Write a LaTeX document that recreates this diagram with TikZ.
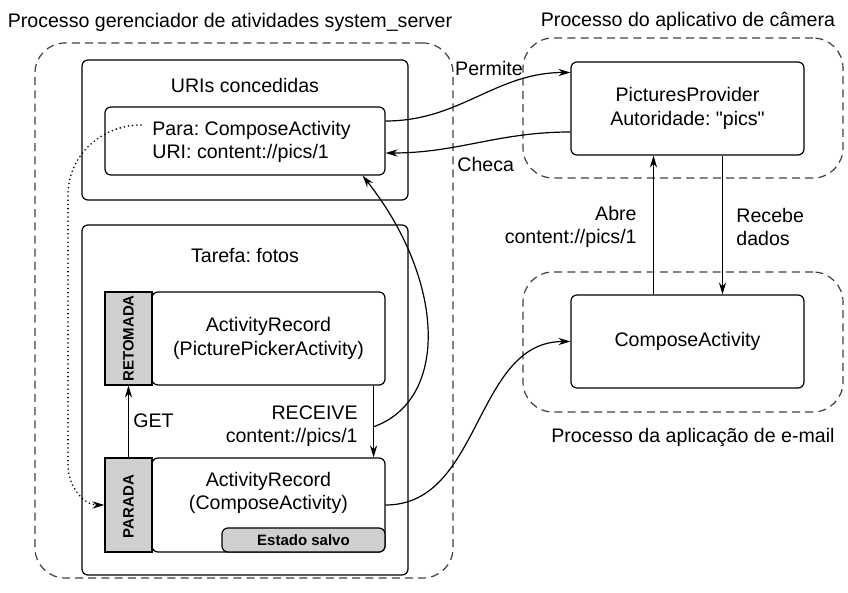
\documentclass[tikz,border=0pt]{standalone}
\usepackage{fontspec}
\setmainfont{Liberation Sans}
\newfontfamily\qfont{Liberation Sans}
\usetikzlibrary{arrows.meta}
\frenchspacing
\begin{document}
\frenchspacing
\begin{tikzpicture}[x=0.5pt,y=0.5pt,
  every node/.style={font=\fontsize{9.8}{11.75}\selectfont, inner sep=0pt},
  sz/.style 2 args={minimum width=#1*0.5pt, minimum height=#2*0.5pt},
  pbox/.style={draw=black, line width=0.6pt, rounded corners=3pt, fill=white, align=center},
  dbox/.style={draw=black!75, line width=0.6pt, dash pattern=on 4pt off 2.6pt, rounded corners=15pt},
  gbox/.style={draw=black, line width=0.6pt, fill=black!19},
  sm/.style={font=\fontsize{7.5}{9}\selectfont\bfseries},
  conn/.style={line width=0.6pt, -{Stealth[length=6pt,width=3.6pt]}},
  dotconn/.style={line width=0.9pt, line cap=round, dash pattern=on 0pt off 2.1pt, -{Stealth[length=6pt,width=3.6pt]}}
]
\useasboundingbox (0,0) rectangle (848,-593);

% process boundaries
\node[dbox, sz={418}{535}] (sys) at (244,-310.5) {};
\node[dbox, sz={320}{140}] (cam) at (683,-108) {};
\node[dbox, sz={320}{140}] (mail) at (683,-342) {};

\node[anchor=base] (t1) at (230,-28) {Processo gerenciador de atividades system\_server};
\node[anchor=base] (t2) at (688,-27) {Processo do aplicativo de câmera};
\node[anchor=base] (t3) at (693,-443) {Processo da aplicação de e-mail};

% URIs concedidas
\node[pbox, sz={326}{140}] (uris) at (245,-130) {};
\node[anchor=base] (turis) at (245,-93) {URIs concedidas};
\node[pbox, sz={280}{68}] (para) at (245,-141) {};
\node[anchor=west, align=left] (paratxt) at (152,-142) {Para: ComposeActivity\\URI: content://pics/1};

% Tarefa
\node[pbox, sz={326}{350}] (tarefa) at (245,-400) {};
\node[anchor=base] (ttar) at (245,-263) {Tarefa: fotos};

\node[pbox, sz={233}{93}] (ar1) at (268.5,-338.5) {ActivityRecord\\(PicturePickerActivity)};
\node[gbox, sz={47}{93}] (ret) at (128.5,-338.5) {};
\node[sm, rotate=90] (rettxt) at (ret.center) {RETOMADA};

\node[pbox, sz={233}{94}] (ar2) at (268.5,-505) {};
\node[align=center] (ar2txt) at (268.5,-493) {ActivityRecord\\(ComposeActivity)};
\node[gbox, rounded corners=3pt, sz={163}{24}, sm] (estado) at (303.5,-540) {Estado salvo};
\node[gbox, sz={47}{94}] (par) at (128.5,-505) {};
\node[sm, rotate=90] (partxt) at (128.5,-506.5) {PARADA};

% camera / email
\node[pbox, sz={233}{93}] (pp) at (687.5,-108.5) {PicturesProvider\\Autoridade: {\qfont"pics"}};
\node[pbox, sz={233}{93}] (ca) at (687.5,-341.5) {ComposeActivity};

% labels
\node[anchor=base] (lperm) at (489,-76) {Permite};
\node[anchor=base west] (lcheca) at (457,-172) {Checa};
\node[anchor=east, align=right] (labre) at (637,-227) {Abre\\content://pics/1};
\node[anchor=west, align=left] (lrec) at (736,-227) {Recebe\\dados};
\node[anchor=base west] (lget) at (133,-428) {GET};
\node[anchor=east, align=right] (lrcv) at (358,-426) {RECEIVE\\content://pics/1};

% connectors
\draw[conn] ([yshift=10pt]para.east) to[out=0,in=180] ([yshift=18pt]pp.west);
\draw[conn] ([yshift=-11.75pt]pp.west) to[out=180,in=0] ([yshift=-6pt]para.east);
\draw[conn] ([xshift=-6pt]ar1.south east) -- ([xshift=-6pt]ar2.north east);
\coordinate (rcv) at (373,-427);
\draw[conn] (rcv) .. controls (450,-400) and (445,-280) .. ([xshift=-11.5pt]para.south east);
\draw[conn] (par.north) -- (ret.south);
\draw[conn] ([xshift=-17pt]ca.north) -- ([xshift=-17pt]pp.south);
\draw[conn] ([xshift=17.5pt]pp.south) -- ([xshift=17.5pt]ca.north);
\draw[conn] (ar2.east) to[out=0,in=180] (ca.west);
\coordinate (dstart) at (141,-125);
\coordinate (dtop) at (68,-195);
\coordinate (dbot) at (68,-465);
\draw[dotconn] (dstart) to[out=180,in=90] (dtop) -- (dbot) to[out=-90,in=180] (par.west);
\end{tikzpicture}
\end{document}
